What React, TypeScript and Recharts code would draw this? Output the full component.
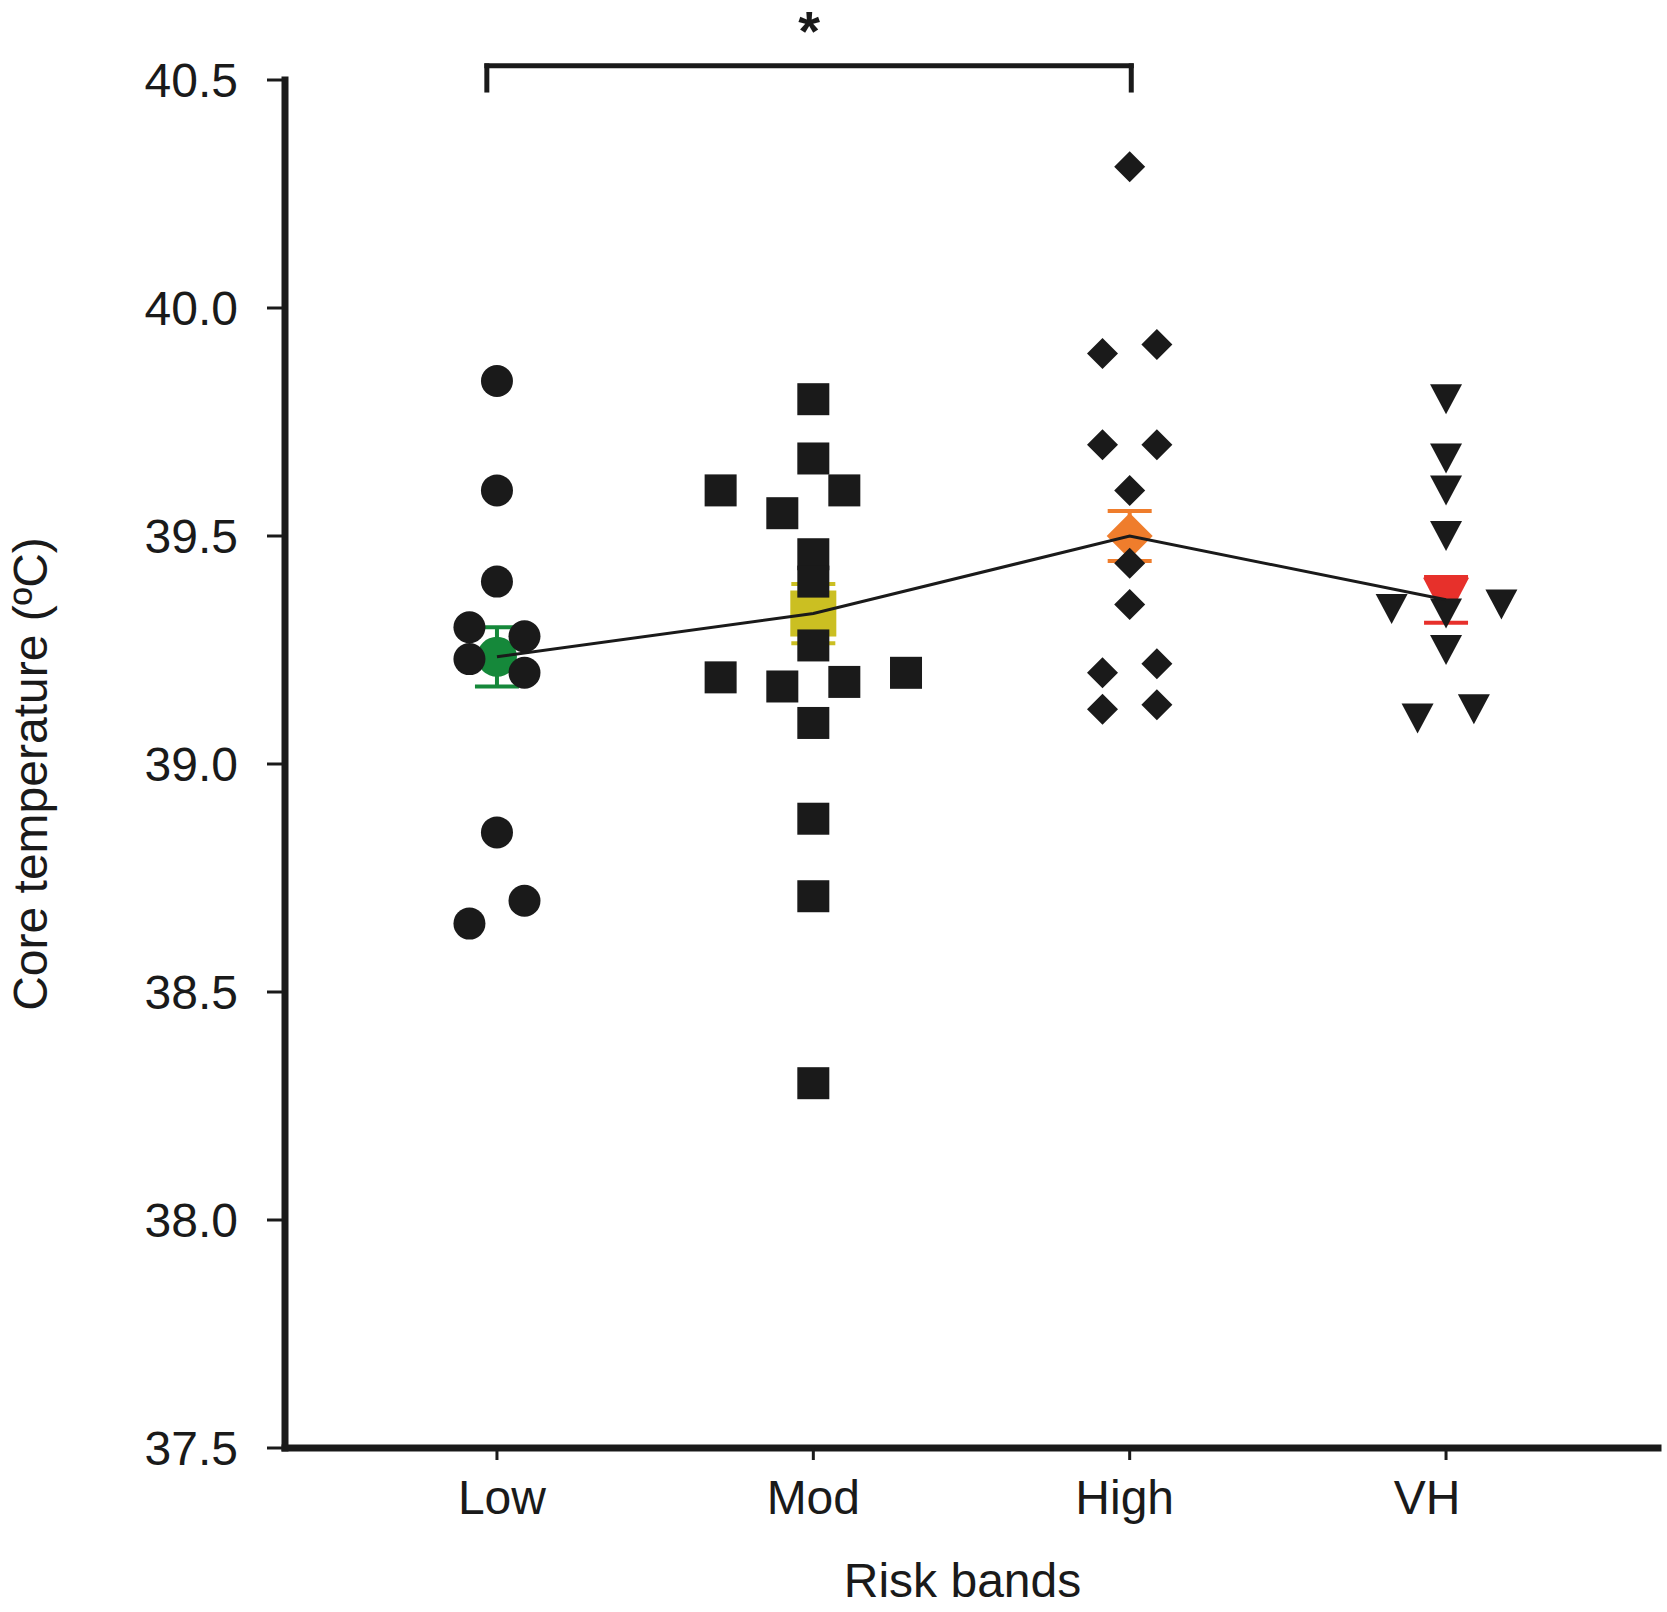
import {
  ScatterChart,
  Scatter,
  XAxis,
  YAxis,
  ErrorBar,
  ReferenceLine,
  Label,
} from 'recharts'

const categories = ['Low', 'Mod', 'High', 'VH']
const yTicks = [37.5, 38.0, 38.5, 39.0, 39.5, 40.0, 40.5]

// individual animals, core temperature (ºC) and horizontal spread within the column
const lowTemps = [39.84, 39.6, 39.4, 39.3, 39.28, 39.23, 39.2, 38.85, 38.7, 38.65]
const lowSpread = [0, 0, 0, -0.087, 0.087, -0.087, 0.087, 0, 0.087, -0.087]

const modTemps = [39.8, 39.67, 39.6, 39.6, 39.55, 39.46, 39.4, 39.26, 39.19, 39.17, 39.18, 39.2, 39.09, 38.88, 38.71, 38.3]
const modSpread = [0, 0, -0.293, 0.098, -0.098, 0, 0, 0, -0.293, -0.098, 0.098, 0.293, 0, 0, 0, 0]

const highTemps = [40.31, 39.9, 39.92, 39.7, 39.7, 39.6, 39.44, 39.35, 39.2, 39.22, 39.12, 39.13]
const highSpread = [0, -0.086, 0.086, -0.086, 0.086, 0, 0, 0, -0.086, 0.086, -0.086, 0.086]

const vhTemps = [39.8, 39.67, 39.6, 39.5, 39.33, 39.34, 39.35, 39.25, 39.1, 39.12]
const vhSpread = [0, 0, 0, 0, 0, -0.172, 0.175, 0, -0.09, 0.088]

// group means and SEM
const meanTemps = [39.235, 39.33, 39.5, 39.36]
const meanSem = [0.065, 0.065, 0.055, 0.05]

const INK = '#1a1a1a'
const FONT = '"Liberation Sans", Arial, sans-serif'
// the original labels are not quite centred under their ticks
const labelNudge = [5, 0, -5, -19]

const toPoints = (group: number, temps: number[], spread: number[]) =>
  temps.map((t, i) => ({ x: group + 1 + spread[i], y: t }))

const lowData = toPoints(0, lowTemps, lowSpread)
const modData = toPoints(1, modTemps, modSpread)
const highData = toPoints(2, highTemps, highSpread)
const vhData = toPoints(3, vhTemps, vhSpread)
const meanData = meanTemps.map((m, i) => ({ x: i + 1, y: m, err: meanSem[i] }))

const circle = (r: number, fill: string) => (p: any) =>
  <circle cx={p.cx} cy={p.cy} r={r} fill={fill} />

const square = (s: number, fill: string) => (p: any) =>
  <rect x={p.cx - s / 2} y={p.cy - s / 2} width={s} height={s} fill={fill} />

const diamond = (h: number, fill: string) => (p: any) =>
  <polygon points={`${p.cx},${p.cy - h} ${p.cx + h},${p.cy} ${p.cx},${p.cy + h} ${p.cx - h},${p.cy}`} fill={fill} />

const downTriangle = (w: number, h: number, fill: string) => (p: any) =>
  <polygon points={`${p.cx - w / 2},${p.cy - h / 2} ${p.cx + w / 2},${p.cy - h / 2} ${p.cx},${p.cy + h / 2}`} fill={fill} />

const meanColors = ['#15883a', '#cbbf22', '#ef7d2c', '#e7302b']
const meanShapes = [
  circle(20, meanColors[0]),
  square(46, meanColors[1]),
  diamond(23, meanColors[2]),
  downTriangle(46, 44, meanColors[3]),
]

function CategoryTick({ x, y, payload }: any) {
  const i = payload.value - 1
  return (
    <text x={x + (labelNudge[i] || 0)} y={y} dy="0.71em" textAnchor="middle" fontSize={48} fill={INK} fontFamily={FONT}>
      {categories[i]}
    </text>
  )
}

export default function App() {
  return (
    <div style={{ position: 'absolute', left: 0, top: 0, width: 1667, height: 1612, background: '#fff' }}>
      <ScatterChart width={1667} height={1612} margin={{ top: 80, right: 9, left: 0, bottom: 0 }}>
        <XAxis
          type="number"
          dataKey="x"
          domain={[0.33, 4.67]}
          ticks={[1, 2, 3, 4]}
          interval={0}
          allowDataOverflow
          height={164}
          axisLine={{ stroke: INK, strokeWidth: 7, strokeLinecap: 'square' }}
          tickLine={{ stroke: INK, strokeWidth: 3 }}
          tickSize={12}
          tickMargin={20}
          tick={<CategoryTick />}
        >
          <Label
            content={(p: any) => {
              const vb = p.viewBox || { x: 285, y: 1448, width: 1373 }
              return (
                <text x={vb.x + vb.width / 2 - 9} y={vb.y + 149} textAnchor="middle" fontSize={48} fill={INK} fontFamily={FONT}>
                  Risk bands
                </text>
              )
            }}
          />
        </XAxis>
        <YAxis
          type="number"
          dataKey="y"
          domain={[37.5, 40.5]}
          ticks={yTicks}
          interval={0}
          allowDataOverflow
          tickFormatter={v => v.toFixed(1)}
          width={285}
          axisLine={{ stroke: INK, strokeWidth: 7, strokeLinecap: 'square' }}
          tickLine={{ stroke: INK, strokeWidth: 3 }}
          tickSize={18}
          tickMargin={29}
          tick={{ fontSize: 48, fill: INK, fontFamily: FONT }}
        >
          <Label
            content={(p: any) => {
              const vb = p.viewBox || { x: 0, y: 80, height: 1368 }
              const cx = vb.x + 47
              const cy = vb.y + vb.height / 2 + 10
              return (
                <text x={cx} y={cy} transform={`rotate(-90, ${cx}, ${cy})`} textAnchor="middle" fontSize={48} fill={INK} fontFamily={FONT}>
                  Core temperature (ºC)
                </text>
              )
            }}
          />
        </YAxis>

        {/* significance bracket Low vs High */}
        <ReferenceLine
          segment={[{ x: 0.968, y: 40.531 }, { x: 3.005, y: 40.531 }]}
          stroke={INK}
          strokeWidth={5}
          strokeLinecap="square"
          ifOverflow="visible"
          label={{ value: '*', position: 'top', offset: 16, fontSize: 56, fontWeight: 700, fill: INK, fontFamily: FONT }}
        />
        <ReferenceLine segment={[{ x: 0.968, y: 40.531 }, { x: 0.968, y: 40.478 }]} stroke={INK} strokeWidth={5} strokeLinecap="square" ifOverflow="visible" />
        <ReferenceLine segment={[{ x: 3.005, y: 40.531 }, { x: 3.005, y: 40.478 }]} stroke={INK} strokeWidth={5} strokeLinecap="square" ifOverflow="visible" />

        {meanData.map((d, i) => (
          <Scatter key={categories[i]} data={[d]} shape={meanShapes[i]} isAnimationActive={false}>
            <ErrorBar dataKey="err" direction="y" width={22} stroke={meanColors[i]} strokeWidth={4} isAnimationActive={false} />
          </Scatter>
        ))}

        <Scatter data={lowData} shape={circle(16, INK)} isAnimationActive={false} />
        <Scatter data={modData} shape={square(32, INK)} isAnimationActive={false} />
        <Scatter data={highData} shape={diamond(15.5, INK)} isAnimationActive={false} />
        <Scatter data={vhData} shape={downTriangle(32, 30, INK)} isAnimationActive={false} />

        <Scatter
          data={meanData}
          line={{ stroke: INK, strokeWidth: 3 }}
          lineType="joint"
          shape={() => <g />}
          isAnimationActive={false}
        />
      </ScatterChart>
    </div>
  )
}
